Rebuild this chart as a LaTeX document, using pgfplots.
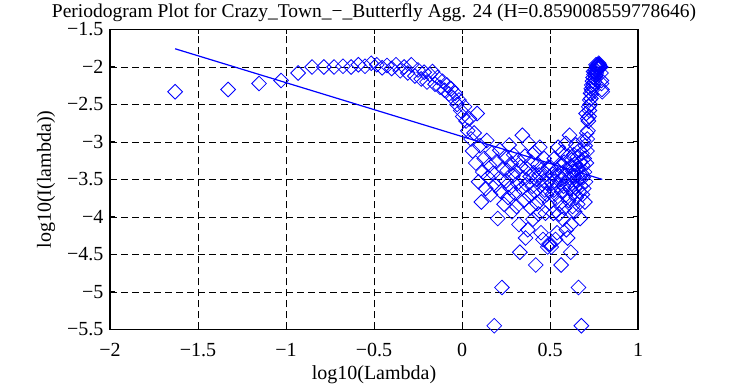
\documentclass[border=0pt]{standalone}
\usepackage{pgfplots}
\pgfplotsset{compat=1.18}
\usepackage{fontspec}
\setmainfont{Liberation Serif}
\definecolor{mblue}{RGB}{0,0,255}
\begin{document}
\begin{tikzpicture}[font=\fontsize{20}{24}\selectfont]
\path[use as bounding box] (0,0) rectangle (749pt,385pt);
\begin{axis}[
  at={(110pt,55.5pt)}, anchor=south west,
  scale only axis, width=528pt, height=300pt,
  xmin=-2, xmax=1, ymin=-5.5, ymax=-1.5,
  xtick={-2,-1.5,-1,-0.5,0,0.5,1},
  xticklabels={−2,−1.5,−1,−0.5,0,0.5,1},
  ytick={-5.5,-5,-4.5,-4,-3.5,-3,-2.5,-2,-1.5},
  yticklabels={−5.5,−5,−4.5,−4,−3.5,−3,−2.5,−2,−1.5},
  tick align=inside, major tick length=5pt,
  every tick/.style={black, line width=1pt},
  axis line style={line width=1.6pt},
  grid=major,
  major grid style={black, line width=0.8pt, dash pattern=on 7pt off 4pt},
  xticklabel style={anchor=base, yshift=-27pt},
  yticklabel style={anchor=east, xshift=-3pt},
  every axis title shift=0pt,
  title={Periodogram Plot for Crazy\_Town\_−\_Butterfly Agg. 24 (H=0.859008559778646)},
  title style={at={(axis description cs:0.5,1.04)}, anchor=base, inner sep=0pt, font=\fontsize{19.5}{23}\selectfont},
  xlabel={log10(Lambda)},
  xlabel style={at={(axis description cs:0.5,-0.1667)}, anchor=base},
  ylabel={log10(I(lambda))},
  ylabel style={at={(axis description cs:-0.1212,0.5)}, anchor=center},
  clip=false,
]
\addplot[only marks, mark=square, mark size=5.2pt, mark options={draw=mblue, fill=none, rotate=45, line width=0.8pt}] coordinates {
(-1.630,-2.33) (-1.329,-2.30) (-1.153,-2.22) (-1.028,-2.18) (-0.931,-2.08) (-0.852,-2.00) (-0.785,-2.00) (-0.727,-2.00) (-0.676,-1.99) (-0.630,-2.00) (-0.589,-1.97) (-0.551,-1.99) (-0.516,-1.95) (-0.484,-1.97) (-0.454,-2.01) (-0.426,-1.98) (-0.400,-2.02) (-0.375,-1.97) (-0.351,-2.05) (-0.329,-2.00) (-0.308,-2.08) (-0.288,-1.97) (-0.268,-2.12) (-0.250,-2.04) (-0.232,-2.16) (-0.215,-2.07) (-0.199,-2.20) (-0.183,-2.10) (-0.168,-2.06) (-0.153,-2.23) (-0.139,-2.14) (-0.125,-2.27) (-0.111,-2.19) (-0.099,-2.31) (-0.086,-2.24) (-0.074,-2.36) (-0.062,-2.29) (-0.050,-2.42) (-0.039,-2.35) (-0.028,-2.50) (-0.017,-2.44) (-0.007,-2.58) (0.004,-2.66) (0.014,-2.53) (0.023,-2.72) (0.033,-2.85) (0.042,-2.69) (0.051,-2.96) (0.060,-3.12) (0.069,-2.88) (0.078,-3.28) (0.086,-2.62) (0.094,-3.53) (0.102,-3.05) (0.110,-3.80) (0.118,-3.40) (0.126,-3.22) (0.134,-3.62) (0.141,-2.98) (0.148,-3.47) (0.155,-3.31) (0.162,-3.70) (0.169,-3.15) (0.176,-3.42) (0.183,-5.45) (0.190,-3.58) (0.196,-3.26) (0.203,-4.02) (0.209,-3.49) (0.215,-3.11) (0.221,-3.66) (0.227,-4.94) (0.233,-3.35) (0.239,-3.83) (0.245,-3.20) (0.251,-3.52) (0.257,-3.38) (0.262,-3.74) (0.268,-3.04) (0.273,-3.61) (0.279,-3.29) (0.284,-3.93) (0.289,-3.45) (0.294,-3.17) (0.299,-3.68) (0.305,-3.39) (0.310,-3.86) (0.315,-3.55) (0.319,-3.24) (0.324,-4.10) (0.329,-4.47) (0.334,-3.33) (0.339,-3.62) (0.343,-2.91) (0.348,-3.48) (0.352,-3.78) (0.357,-3.19) (0.361,-4.28) (0.366,-3.57) (0.370,-3.36) (0.374,-4.17) (0.379,-3.02) (0.383,-3.71) (0.387,-3.46) (0.391,-3.88) (0.395,-3.27) (0.399,-3.59) (0.403,-4.03) (0.407,-3.41) (0.411,-3.14) (0.415,-3.66) (0.419,-4.64) (0.423,-3.50) (0.427,-3.82) (0.431,-3.30) (0.435,-3.96) (0.438,-3.44) (0.442,-3.07) (0.446,-3.58) (0.449,-4.21) (0.453,-3.37) (0.456,-3.75) (0.460,-4.30) (0.463,-3.52) (0.467,-3.22) (0.470,-3.64) (0.474,-3.95) (0.477,-3.43) (0.481,-3.70) (0.484,-3.55) (0.487,-4.40) (0.491,-3.34) (0.494,-4.36) (0.497,-3.81)
};
\addplot[only marks, mark=square, mark size=5.2pt, mark options={draw=mblue, fill=none, rotate=45, line width=0.8pt}] coordinates {
(0.797,-2.33) (0.795,-2.30) (0.793,-2.22) (0.792,-2.18) (0.790,-2.08) (0.788,-2.00) (0.787,-2.00) (0.785,-2.00) (0.783,-1.99) (0.782,-2.00) (0.780,-1.97) (0.778,-1.99) (0.777,-1.95) (0.775,-1.97) (0.773,-2.01) (0.771,-1.98) (0.770,-2.02) (0.768,-1.97) (0.766,-2.05) (0.765,-2.00) (0.763,-2.08) (0.761,-1.97) (0.759,-2.12) (0.757,-2.04) (0.756,-2.16) (0.754,-2.07) (0.752,-2.20) (0.750,-2.10) (0.748,-2.06) (0.747,-2.23) (0.745,-2.14) (0.743,-2.27) (0.741,-2.19) (0.739,-2.31) (0.737,-2.24) (0.736,-2.36) (0.734,-2.29) (0.732,-2.42) (0.730,-2.35) (0.728,-2.50) (0.726,-2.44) (0.724,-2.58) (0.722,-2.66) (0.720,-2.53) (0.718,-2.72) (0.716,-2.85) (0.714,-2.69) (0.712,-2.96) (0.710,-3.12) (0.709,-2.88) (0.707,-3.28) (0.705,-2.62) (0.702,-3.53) (0.700,-3.05) (0.698,-3.80) (0.696,-3.40) (0.694,-3.22) (0.692,-3.62) (0.690,-2.98) (0.688,-3.47) (0.686,-3.31) (0.684,-3.70) (0.682,-3.15) (0.680,-3.42) (0.678,-5.45) (0.675,-3.58) (0.673,-3.26) (0.671,-4.02) (0.669,-3.49) (0.667,-3.11) (0.665,-3.66) (0.662,-4.94) (0.660,-3.35) (0.658,-3.83) (0.656,-3.20) (0.653,-3.52) (0.651,-3.38) (0.649,-3.74) (0.647,-3.04) (0.644,-3.61) (0.642,-3.29) (0.640,-3.93) (0.637,-3.45) (0.635,-3.17) (0.633,-3.68) (0.630,-3.39) (0.628,-3.86) (0.625,-3.55) (0.623,-3.24) (0.620,-4.10) (0.618,-4.47) (0.616,-3.33) (0.613,-3.62) (0.611,-2.91) (0.608,-3.48) (0.606,-3.78) (0.603,-3.19) (0.600,-4.28) (0.598,-3.57) (0.595,-3.36) (0.593,-4.17) (0.590,-3.02) (0.588,-3.71) (0.585,-3.46) (0.582,-3.88) (0.580,-3.27) (0.577,-3.59) (0.574,-4.03) (0.571,-3.41) (0.569,-3.14) (0.566,-3.66) (0.563,-4.64) (0.560,-3.50) (0.558,-3.82) (0.555,-3.30) (0.552,-3.96) (0.549,-3.44) (0.546,-3.07) (0.543,-3.58) (0.540,-4.21) (0.537,-3.37) (0.534,-3.75) (0.531,-4.30) (0.528,-3.52) (0.525,-3.22) (0.522,-3.64) (0.519,-3.95) (0.516,-3.43) (0.513,-3.70) (0.510,-3.55) (0.507,-4.40) (0.504,-3.34) (0.500,-4.36)
};
\addplot[mblue, line width=1.2pt, no marks] coordinates {(-1.630,-1.757) (0.797,-3.499)};
\end{axis}
\end{tikzpicture}
\end{document}
